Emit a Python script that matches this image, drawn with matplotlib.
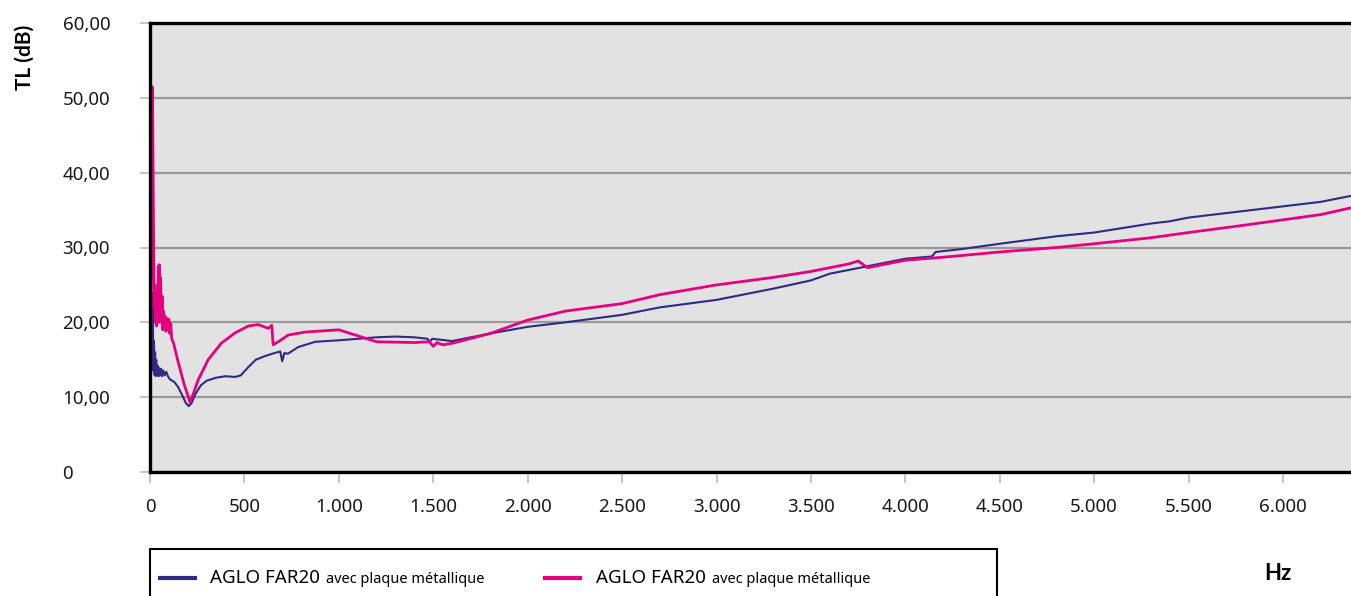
import numpy as np
import matplotlib
matplotlib.use("Agg")
from matplotlib import pyplot as plt
from matplotlib.lines import Line2D
from matplotlib.patches import Rectangle
from matplotlib.ticker import FuncFormatter

blue_hz = [2, 6, 9, 12, 15, 18, 21, 24, 27, 30, 33, 37, 41, 45, 49, 53, 58, 64, 70, 78, 86, 95,
           105, 130, 150, 170, 190, 205, 220, 240, 270, 300, 350, 400, 450, 480, 520, 560, 610,
           660, 690, 700, 712, 730, 785, 875, 1000, 1100, 1200, 1300, 1400, 1470, 1480, 1495,
           1600, 1800, 2000, 2200, 2500, 2700, 3000, 3300, 3500, 3600, 3800, 4000, 4140, 4160,
           4300, 4500, 4800, 5000, 5200, 5300, 5400, 5500, 5800, 6000, 6200, 6360]
blue_db = [18, 21, 24, 16, 22, 13.5, 17.5, 13, 16, 12.8, 15, 13, 14.2, 12.8, 13.9, 12.9, 13.8,
           12.8, 13.6, 12.9, 13.4, 12.8, 12.4, 12.0, 11.3, 10.3, 9.2, 8.8, 9.2, 10.4, 11.6, 12.2,
           12.6, 12.8, 12.7, 12.9, 14.0, 15.0, 15.5, 15.9, 16.1, 14.8, 15.9, 15.8, 16.7, 17.4,
           17.6, 17.8, 18.0, 18.1, 18.0, 17.8, 17.4, 17.8, 17.5, 18.5, 19.4, 20.0, 21.0, 22.0,
           23.0, 24.5, 25.6, 26.5, 27.5, 28.5, 28.8, 29.4, 29.8, 30.5, 31.5, 32.0, 32.8, 33.2,
           33.5, 34.0, 34.9, 35.5, 36.1, 36.9]

pink_hz = [2, 8, 11, 14, 17, 20, 23, 26, 29, 32, 35, 38, 41, 44, 47, 50, 53, 56, 60, 64, 68, 72,
           76, 80, 85, 90, 95, 100, 105, 110, 115, 125, 150, 180, 212, 230, 255, 308, 377, 451,
           520, 573, 626, 645, 652, 679, 732, 822, 1000, 1100, 1200, 1400, 1480, 1500, 1520,
           1550, 1600, 1800, 2000, 2200, 2500, 2700, 3000, 3300, 3500, 3700, 3750, 3800, 3900,
           4000, 4200, 4500, 4800, 5000, 5300, 5500, 5800, 6000, 6200, 6360]
pink_db = [7.9, 35, 51.5, 49, 38, 28, 22, 25, 20, 24, 19.5, 23, 21, 27.5, 20, 27.7, 22, 26, 20,
           23.5, 19, 21.5, 19.3, 20.8, 18.8, 20.5, 19.0, 20.4, 18.5, 19.8, 17.8, 17.2, 14.6,
           11.8, 9.3, 10.5, 12.3, 15.0, 17.2, 18.6, 19.5, 19.7, 19.2, 19.6, 17.0, 17.4, 18.3,
           18.7, 19.0, 18.2, 17.4, 17.3, 17.4, 16.8, 17.3, 17.0, 17.2, 18.5, 20.3, 21.5, 22.5,
           23.7, 25.0, 26.0, 26.8, 27.8, 28.2, 27.3, 27.8, 28.3, 28.7, 29.4, 30.0, 30.5, 31.3,
           32.0, 33.0, 33.7, 34.4, 35.3]

labels = ["AGLO FAR20", "AGLO FAR20"]
label_small = ["avec plaque métallique", "avec plaque métallique"]
colors = ["#2e2a85", "#e6007e"]

x_ticks = np.arange(0, 6001, 500)
y_ticks = np.arange(0, 61, 10)

plt.rcParams['font.family'] = ['Noto Sans', 'DejaVu Sans']

fig = plt.figure(figsize=(13.51, 5.96), dpi=100)
ax = fig.add_axes([150 / 1351, 1 - 472 / 596, 1 - 150 / 1351, (472 - 23) / 596])
ax.set_facecolor("#e2e2e2")

ax.plot(blue_hz, blue_db, color=colors[0], lw=1.5, zorder=3)
ax.plot(pink_hz, pink_db, color=colors[1], lw=2.0, zorder=3)

ax.set_xlim(0, 6360)
ax.set_ylim(0, 60)
ax.set_xticks(x_ticks)
ax.set_yticks(y_ticks)
ax.xaxis.set_major_formatter(FuncFormatter(lambda v, p: f"{int(v):,}".replace(",", ".")))
ax.yaxis.set_major_formatter(FuncFormatter(lambda v, p: "0" if v == 0 else f"{v:.2f}".replace(".", ",")))
ax.tick_params(axis='both', colors="#bbbbbb", labelcolor="#1a1a1a", labelsize=13.5, width=1.2)
# y labels are left aligned at about x=62 px
ax.tick_params(axis='y', length=7, pad=56)
ax.tick_params(axis='x', length=8, pad=11)
for lbl in ax.get_yticklabels():
    lbl.set_horizontalalignment('left')

ax.grid(axis='y', color="#999999", lw=1.6)
ax.set_axisbelow(True)
for s in ['left', 'top', 'bottom']:
    ax.spines[s].set_linewidth(2.4)
    ax.spines[s].set_color("black")
    ax.spines[s].set_zorder(4)
ax.spines['right'].set_visible(False)

bold = ['Lato', 'DejaVu Sans']
fig.text(25 / 1351, 1 - 57 / 596, "TL (dB)", rotation=90, ha='center', va='center',
         fontsize=15, fontweight='bold', family=bold)
fig.text(1278 / 1351, 1 - 574 / 596, "Hz", ha='center', va='center',
         fontsize=16, fontweight='bold', family=bold)

# legend box
fig.patches.append(Rectangle((150 / 1351, -0.05), (997 - 150) / 1351, 0.05 + (596 - 549) / 596,
                             transform=fig.transFigure, fill=False, edgecolor='black', lw=1.5))
renderer = fig.canvas.get_renderer()
for i, (x0, tx) in enumerate([(160, 210), (545, 596)]):
    y = 1 - 578 / 596
    fig.add_artist(Line2D([x0 / 1351, (x0 + 35) / 1351], [y, y], color=colors[i], lw=3,
                          transform=fig.transFigure))
    t = fig.text(tx / 1351, y, labels[i], ha='left', va='center', fontsize=13.5)
    w = t.get_window_extent(renderer).width
    fig.text((tx + w + 6) / 1351, y - 0.002, label_small[i], ha='left', va='center', fontsize=10.5)

fig.savefig("out.png", dpi=100)
